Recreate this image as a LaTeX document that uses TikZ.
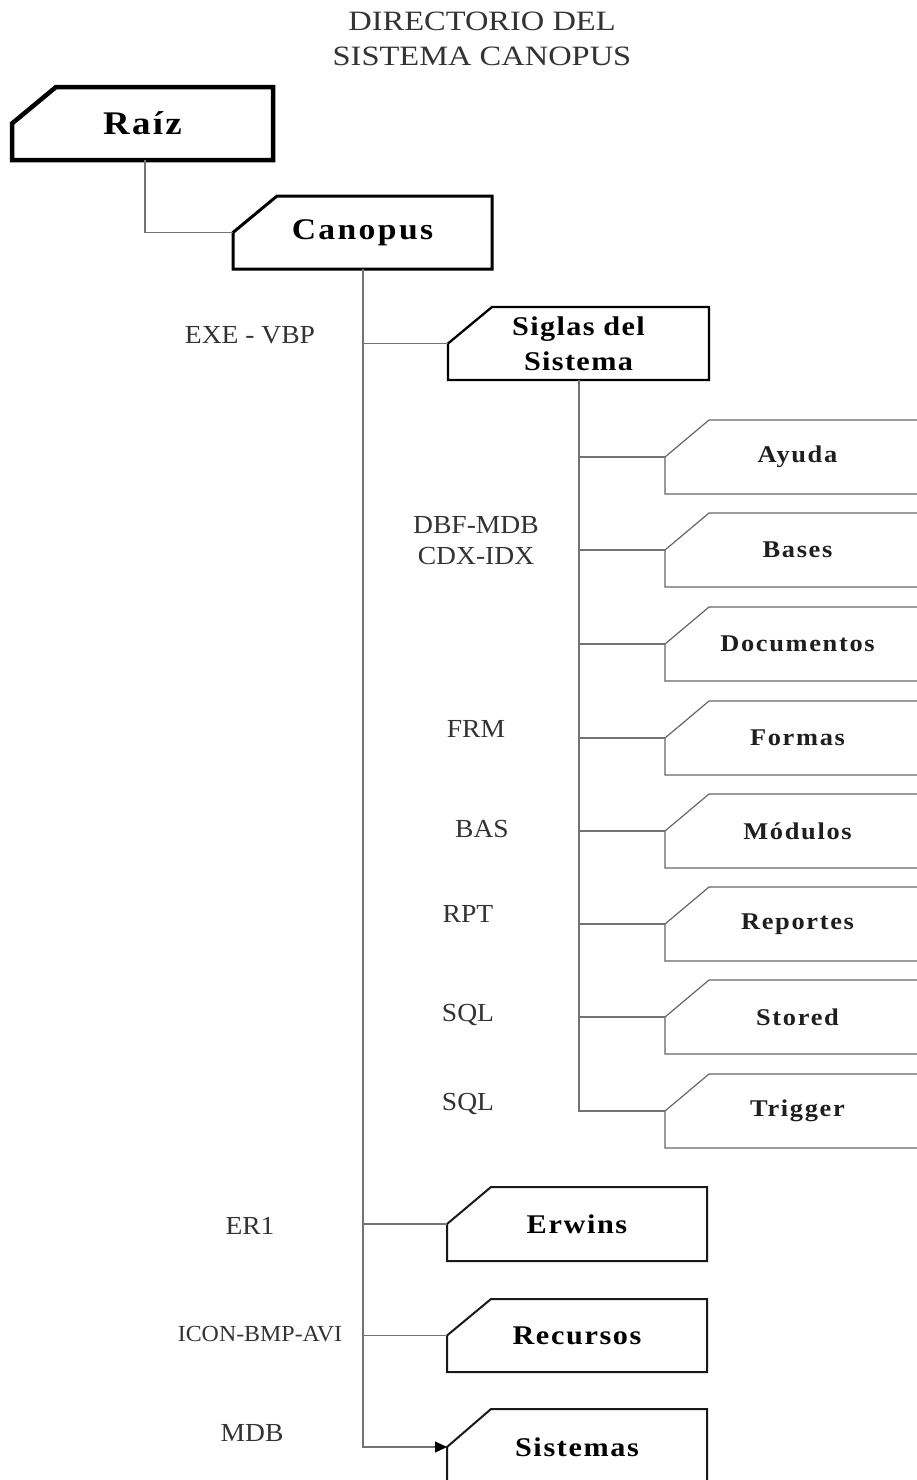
\documentclass[tikz,border=0pt]{standalone}
\usepackage{fontspec}
\setmainfont{Liberation Serif}
\usetikzlibrary{arrows.meta}
\newcommand{\chbox}[8]{%
  \draw[#1] (#3,{(#4+#6)/2}) -- ({#3+44},#4) -- (#5,#4) -- (#5,#6) -- (#3,#6) -- cycle;
  \coordinate (#2-in) at (#3,{(#4+#6)/2});
  \node[#7] (#2) at ({(#3+#5)/2},{(#4+#6)/2}) {#8};
}
\tikzset{
  conn/.style={draw=black!55, line width=1.1pt},
  rootbox/.style={draw=black, line width=4.5pt, line join=miter, fill=white},
  canbox/.style={draw=black, line width=3pt, line join=miter, fill=white},
  sigbox/.style={draw=black, line width=2.3pt, line join=miter, fill=white},
  midbox/.style={draw=black!90, line width=2pt, line join=miter, fill=white},
  leafbox/.style={draw=black!60, line width=1.2pt, line join=miter, fill=white},
  bigtxt/.style={inner sep=0pt, font=\fontsize{33}{38}\selectfont\bfseries\addfontfeature{FakeStretch=1.12,LetterSpace=7}},
  cantxt/.style={inner sep=0pt, font=\fontsize{30}{35}\selectfont\bfseries\addfontfeature{FakeStretch=1.12,LetterSpace=8}},
  sigtxt/.style={inner sep=0pt, align=center, font=\fontsize{27}{35}\selectfont\bfseries\addfontfeature{FakeStretch=1.12,LetterSpace=5}},
  midtxt/.style={inner sep=0pt, font=\fontsize{27}{32}\selectfont\bfseries\addfontfeature{FakeStretch=1.12,LetterSpace=6}},
  leaftxt/.style={inner sep=0pt, text=black!88, font=\fontsize{24}{28}\selectfont\bfseries\addfontfeature{FakeStretch=1.1,LetterSpace=7}},
  lbl/.style={inner sep=0pt, text=black!80, align=center, font=\fontsize{26}{31}\selectfont\addfontfeature{FakeStretch=1.06}},
  smlbl/.style={inner sep=0pt, text=black!80, font=\fontsize{23}{28}\selectfont\addfontfeature{FakeStretch=1.04}},
  ttl/.style={inner sep=0pt, text=black!80, align=center, font=\fontsize{28}{35}\selectfont\addfontfeature{FakeStretch=1.16}}
}
\begin{document}
\begin{tikzpicture}[x=1pt,y=-1pt]
\useasboundingbox (0,0) rectangle (917,1480);
\clip (0,0) rectangle (917,1480);
\fill[white] (0,0) rectangle (917,1480);

\node[ttl] (title) at (482,39) {DIRECTORIO DEL\\SISTEMA CANOPUS};

\coordinate (raizB) at (145,160);
\coordinate (canB) at (363,269);
\coordinate (sigB) at (579,380);

% boxes
\chbox{rootbox}{raiz}{12}{87}{273}{160}{bigtxt}{Raíz}
\chbox{canbox}{can}{233}{196}{492}{269}{cantxt}{Canopus}
\chbox{sigbox}{sig}{448}{307}{709}{380}{sigtxt}{Siglas del\\Sistema}

\chbox{leafbox}{ayu}{665}{420}{930}{494}{leaftxt}{Ayuda}
\chbox{leafbox}{bas}{665}{513}{930}{587}{leaftxt}{Bases}
\chbox{leafbox}{doc}{665}{607}{930}{681}{leaftxt}{Documentos}
\chbox{leafbox}{frm}{665}{701}{930}{775}{leaftxt}{Formas}
\chbox{leafbox}{mod}{665}{794}{930}{868}{leaftxt}{Módulos}
\chbox{leafbox}{rep}{665}{887}{930}{961}{leaftxt}{Reportes}
\chbox{leafbox}{sto}{665}{980}{930}{1054}{leaftxt}{Stored}
\chbox{leafbox}{trg}{665}{1074}{930}{1148}{leaftxt}{Trigger}

\chbox{midbox}{erw}{447}{1187}{707}{1261}{midtxt}{Erwins}
\chbox{midbox}{rec}{447}{1299}{707}{1372}{midtxt}{Recursos}
\chbox{midbox}{sis}{447}{1409}{707}{1485}{midtxt}{Sistemas}

% connectors
\draw[conn] (raizB) |- (can-in);
\draw[conn, -{Triangle[length=12pt,width=11pt,color=black]}] (canB) |- (sis-in);
\draw[conn] (sig-in) -- (sig-in -| canB);
\draw[conn] (erw-in) -- (erw-in -| canB);
\draw[conn] (rec-in) -- (rec-in -| canB);
\draw[conn] (sigB) |- (trg-in);
\foreach \b in {ayu,bas,doc,frm,mod,rep,sto}{
  \draw[conn] (\b-in) -- (\b-in -| sigB);
}

% labels
\node[lbl] (l1) at (250,335) {EXE - VBP};
\node[lbl] (l2) at (476,541) {DBF-MDB\\CDX-IDX};
\node[lbl] (l3) at (476,729) {FRM};
\node[lbl] (l4) at (482,829) {BAS};
\node[lbl] (l5) at (468,914) {RPT};
\node[lbl] (l6) at (468,1015) {SQL};
\node[lbl] (l7) at (468,1104) {SQL};
\node[lbl] (l8) at (250,1226) {ER1};
\node[smlbl] (l9) at (260,1334) {ICON-BMP-AVI};
\node[lbl] (l10) at (252,1433) {MDB};
\end{tikzpicture}
\end{document}
